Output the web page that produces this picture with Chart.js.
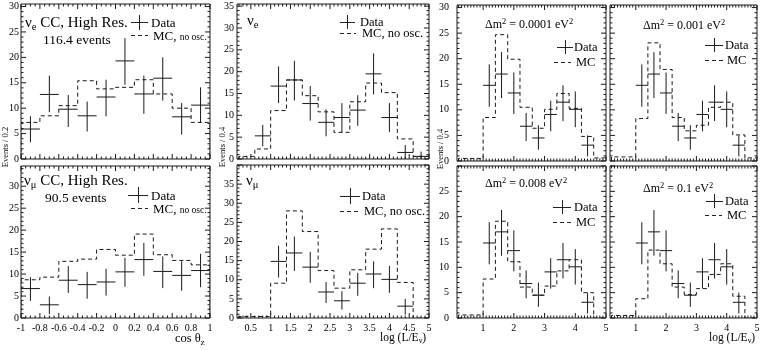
<!DOCTYPE html>
<html>
<head>
<meta charset="utf-8">
<script src="https://cdn.jsdelivr.net/npm/chart.js@4.4.0/dist/chart.umd.min.js"></script>
<style>
  html, body { margin: 0; padding: 0; background: #fff; }
  #fig { position: relative; width: 761px; height: 350px; overflow: hidden;
         font-family: "Liberation Serif", "DejaVu Serif", serif; color: #000; }
  #fig canvas { position: absolute; }
  .t { position: absolute; white-space: nowrap; line-height: 1; }
  .t sub { font-size: 70%; vertical-align: -0.3em; line-height: 0; }
  .t sup { font-size: 70%; vertical-align: 0.45em; line-height: 0; }
  .t small { font-size: 9.5px; }
  .rot { transform: translate(-50%, -50%) rotate(-90deg); }
  .hl { position: absolute; height: 1px; background: #222; }
  .vl { position: absolute; width: 1px; background: #222; }
  .dl { position: absolute; height: 1px;
        background: repeating-linear-gradient(to right, #222 0 4px, transparent 4px 7px); }
</style>
</head>
<body>
<div id="fig"></div>
<script>
"use strict";

// ---- data: cos(theta_z), bins of 0.2 ----------------------------------------
const cosEdges = [-1, -0.8, -0.6, -0.4, -0.2, 0, 0.2, 0.4, 0.6, 0.8, 1];

const nueCosData = [5.9, 12.7, 9.8, 8.5, 12.2, 19.3, 12.8, 15.9, 8.3, 10.6];
const nueCosLo   = [3.3, 9.2, 6.3, 5.4, 8.4, 14.6, 8.9, 11.5, 4.8, 7.1];
const nueCosHi   = [8.4, 16.4, 12.6, 11.3, 15.6, 23.8, 16.4, 20.0, 11.0, 14.1];
const nueCosMC   = [7.2, 8.5, 10.5, 15.4, 13.8, 14.1, 15.6, 12.8, 10.0, 7.2];

const numuCosData = [6.7, 3.0, 8.6, 7.6, 8.2, 10.5, 13.3, 10.6, 9.7, 10.8];
const numuCosLo   = [3.9, 0.9, 5.7, 4.4, 5.1, 7.1, 9.6, 6.8, 6.2, 7.0];
const numuCosHi   = [9.3, 4.9, 11.8, 10.5, 11.2, 13.7, 17.1, 14.0, 12.9, 14.6];
const numuCosMC   = [8.7, 9.3, 12.9, 13.4, 15.6, 14.3, 19.1, 14.4, 13.1, 12.1];

// ---- data: log(L/E), bins of 0.4 (null = empty bin) -------------------------
const logEdges = [0.2, 0.6, 1.0, 1.4, 1.8, 2.2, 2.6, 3.0, 3.4, 3.8, 4.2, 4.6, 5.0];

const nueLogData = [null, 5.3, 16.7, 18.1, 12.7, 8.4, 9.5, 11.2, 19.5, 9.5, 1.5, 0.6];
const nueLogLo   = [null, 2.9, 12.8, 13.4, 8.8, 5.2, 6.1, 7.6, 14.8, 6.2, 0, 0];
const nueLogHi   = [null, 7.8, 21.2, 22.5, 16.7, 11.4, 12.8, 14.6, 24.2, 12.8, 3.2, 1.7];
const nueLogMC   = [0.6, 2.3, 11.1, 18.1, 14.5, 10.8, 6.1, 13.1, 17.4, 15.2, 4.6, 0.6];

const numuLogData = [null, null, 14.8, 17.0, 13.3, 6.8, 4.5, 9.1, 11.5, 10.1, 3.1, null];
const numuLogLo   = [null, null, 10.6, 12.3, 9.2, 3.9, 2.2, 5.8, 7.8, 6.6, 0.9, null];
const numuLogHi   = [null, null, 18.9, 21.3, 17.3, 9.4, 7.0, 11.8, 14.8, 13.6, 5.0, null];
const numuLogMC   = [0.4, 0.4, 9.1, 28.0, 22.6, 12.4, 7.8, 12.6, 18.0, 23.3, 9.3, 0];

// MC with oscillations, by delta m^2
const mcDm0001 = [0.5, 0.5, 8.5, 24.7, 19.9, 10.5, 6.4, 10.1, 13.2, 10.3, 4.8, 0.6];
const mcDm001  = [0.8, 0.8, 8.3, 23.1, 17.9, 8.5, 5.9, 7.0, 10.5, 11.5, 5.1, 0.6];
const mcDm008  = [0.6, 0.6, 7.7, 19.1, 11.1, 6.1, 4.5, 6.3, 9.3, 11.5, 5.0, 0];
const mcDm1    = [0.5, 0.5, 3.8, 13.4, 10.7, 6.1, 4.6, 5.8, 8.6, 10.7, 4.3, 0];

// ---- helpers ----------------------------------------------------------------
const fig = document.getElementById("fig");
const INK = "#1a1a1a";
const TICK_FONT = { family: "'Liberation Serif', 'DejaVu Serif', serif", size: 10 };

function histPoints(edges, values) {
  const pts = [{ x: edges[0], y: 0 }];
  values.forEach((v, i) => pts.push({ x: edges[i], y: v }));
  pts.push({ x: edges[edges.length - 1], y: 0 });
  return pts;
}

// horizontal bars across the bin and vertical error bars, split by null gaps
function crossPoints(edges, values, lo, hi) {
  const h = [], v = [];
  values.forEach((val, i) => {
    if (val == null) return;
    const c = (edges[i] + edges[i + 1]) / 2;
    h.push({ x: edges[i], y: val }, { x: edges[i + 1], y: val }, { x: edges[i + 1], y: null });
    v.push({ x: c, y: lo[i] }, { x: c, y: hi[i] }, { x: c, y: null });
  });
  return [h, v];
}

function marks(scale, minor, major, draw) {
  const n0 = Math.ceil(scale.min / minor - 1e-6);
  const n1 = Math.floor(scale.max / minor + 1e-6);
  for (let n = n0; n <= n1; n++) {
    const v = n * minor;
    const isMajor = Math.abs(v / major - Math.round(v / major)) < 1e-6;
    draw(scale.getPixelForValue(v), isMajor ? 5 : 2.5);
  }
}

// frame with inward ticks on all four sides, like the original PAW plots
const frameTicks = {
  id: "frameTicks",
  afterDatasetsDraw(chart, args, o) {
    const { ctx, chartArea: a, scales: { x, y } } = chart;
    ctx.save();
    ctx.strokeStyle = INK;
    ctx.lineWidth = 1;
    ctx.beginPath();
    ctx.rect(a.left, a.top, a.right - a.left, a.bottom - a.top);
    marks(x, o.xMinor, o.xMajor, (px, len) => {
      ctx.moveTo(px, a.bottom); ctx.lineTo(px, a.bottom - len);
      ctx.moveTo(px, a.top); ctx.lineTo(px, a.top + len);
    });
    marks(y, 1, 5, (py, len) => {
      ctx.moveTo(a.left, py); ctx.lineTo(a.left + len, py);
      ctx.moveTo(a.right, py); ctx.lineTo(a.right - len, py);
    });
    ctx.stroke();
    ctx.restore();
  },
};

function makePanel(p) {
  const padT = 4, padR = 3, xH = p.xLabels ? 24 : 3;
  const w = p.R - p.L + p.yW + padR;
  const h = p.B - p.T + padT + xH;
  const cv = document.createElement("canvas");
  cv.width = w; cv.height = h;
  cv.style.left = (p.L - p.yW) + "px";
  cv.style.top = (p.T - padT) + "px";
  cv.style.width = w + "px";
  cv.style.height = h + "px";
  fig.appendChild(cv);

  const [hBars, vBars] = crossPoints(p.edges, p.vals, p.lo, p.hi);
  const lineDs = (data, extra) => Object.assign({
    data, borderColor: INK, borderWidth: 1, pointRadius: 0, tension: 0, spanGaps: false,
  }, extra);

  new Chart(cv, {
    type: "line",
    data: {
      datasets: [
        lineDs(histPoints(p.edges, p.mc), { stepped: "before", borderDash: [4, 3] }),
        lineDs(hBars),
        lineDs(vBars),
      ],
    },
    options: {
      responsive: false,
      animation: false,
      devicePixelRatio: 1,
      layout: { padding: { top: padT, right: padR, left: 0, bottom: 0 } },
      plugins: {
        legend: { display: false },
        tooltip: { enabled: false },
        frameTicks: { xMinor: p.xMinor, xMajor: p.xStep },
      },
      scales: {
        x: {
          type: "linear", min: p.xMin, max: p.xMax,
          grid: { display: false, drawTicks: false }, border: { display: false },
          ticks: {
            display: p.xLabels, stepSize: p.xStep, autoSkip: false, maxRotation: 0,
            includeBounds: false, padding: 4, font: TICK_FONT, color: "#000",
            callback: (v) => String(Math.round(v * 10) / 10),
          },
          afterFit: (s) => { s.height = xH; s.paddingLeft = 0; s.paddingRight = 0; },
        },
        y: {
          min: 0, max: p.yMax,
          grid: { display: false, drawTicks: false }, border: { display: false },
          ticks: {
            display: p.yLabelMax > 0, stepSize: 5, autoSkip: false, includeBounds: false,
            padding: p.yPad, font: TICK_FONT, color: "#000",
            callback: (v) => (v <= p.yLabelMax ? String(v) : ""),
          },
          afterFit: (s) => { s.width = p.yW; s.paddingTop = 0; s.paddingBottom = 0; },
        },
      },
    },
    plugins: [frameTicks],
  });
}

const cosAxis = { xMin: -1, xMax: 1, xStep: 0.2, xMinor: 0.05, edges: cosEdges };
const logAxisB = { xMin: 0.15, xMax: 5, xStep: 0.5, xMinor: 0.1, edges: logEdges };
const logAxis = { xMin: 0.15, xMax: 5, xStep: 1, xMinor: 0.1, edges: logEdges };
const numuLog = { vals: numuLogData, lo: numuLogLo, hi: numuLogHi };

const panels = [
  Object.assign({ L: 21, T: 4, R: 210, B: 159, yMax: 30.5, yLabelMax: 30, yW: 21, yPad: 2, xLabels: false,
    vals: nueCosData, lo: nueCosLo, hi: nueCosHi, mc: nueCosMC }, cosAxis),
  Object.assign({ L: 21, T: 166, R: 210, B: 318, yMax: 34.6, yLabelMax: 30, yW: 21, yPad: 2, xLabels: true,
    vals: numuCosData, lo: numuCosLo, hi: numuCosHi, mc: numuCosMC }, cosAxis),
  Object.assign({ L: 237, T: 4, R: 429, B: 159, yMax: 35.5, yLabelMax: 35, yW: 30, yPad: 3, xLabels: false,
    vals: nueLogData, lo: nueLogLo, hi: nueLogHi, mc: nueLogMC }, logAxisB),
  Object.assign({ L: 237, T: 165, R: 429, B: 318, yMax: 40, yLabelMax: 35, yW: 30, yPad: 3, xLabels: true,
    mc: numuLogMC }, numuLog, logAxisB),
  Object.assign({ L: 457, T: 5, R: 606, B: 161, yMax: 30.5, yLabelMax: 30, yW: 30, yPad: 8, xLabels: false,
    mc: mcDm0001 }, numuLog, logAxis),
  Object.assign({ L: 610, T: 5, R: 757, B: 161, yMax: 30.5, yLabelMax: 0, yW: 4, yPad: 0, xLabels: false,
    mc: mcDm001 }, numuLog, logAxis),
  Object.assign({ L: 457, T: 166, R: 606, B: 318, yMax: 30, yLabelMax: 25, yW: 30, yPad: 8, xLabels: true,
    mc: mcDm008 }, numuLog, logAxis),
  Object.assign({ L: 610, T: 166, R: 757, B: 318, yMax: 30, yLabelMax: 0, yW: 4, yPad: 0, xLabels: true,
    mc: mcDm1 }, numuLog, logAxis),
];
panels.forEach(makePanel);

// ---- text and legend keys ---------------------------------------------------
function txt(html, x, cy, size, cls) {
  const d = document.createElement("div");
  d.className = "t" + (cls ? " " + cls : "");
  d.innerHTML = html;
  d.style.fontSize = size + "px";
  if (cls === "rot") { d.style.left = x + "px"; d.style.top = cy + "px"; }
  else { d.style.left = x + "px"; d.style.top = (cy - size / 2) + "px"; }
  fig.appendChild(d);
  return d;
}

function keyCross(cx, cy, w, h) {
  const a = document.createElement("div");
  a.className = "hl";
  Object.assign(a.style, { left: (cx - w / 2) + "px", top: cy + "px", width: w + "px" });
  const b = document.createElement("div");
  b.className = "vl";
  Object.assign(b.style, { left: cx + "px", top: (cy - h / 2) + "px", height: h + "px" });
  fig.appendChild(a); fig.appendChild(b);
}

function keyDash(x0, x1, cy) {
  const d = document.createElement("div");
  d.className = "dl";
  Object.assign(d.style, { left: x0 + "px", top: cy + "px", width: (x1 - x0) + "px" });
  fig.appendChild(d);
}

// panel titles
txt("ν<sub>e</sub> CC, High Res.", 25, 22, 15);
txt("116.4 events", 43, 40, 13.5);
txt("ν<sub>μ</sub> CC, High Res.", 24, 180, 15);
txt("90.5 events", 45, 198, 13.5);
txt("ν<sub>e</sub>", 247, 20, 15);
txt("ν<sub>μ</sub>", 246, 180, 15);
txt("Δm<sup>2</sup> = 0.0001 eV<sup>2</sup>", 485, 24, 12);
txt("Δm<sup>2</sup> = 0.001 eV<sup>2</sup>", 643, 25, 12);
txt("Δm<sup>2</sup> = 0.008 eV<sup>2</sup>", 485, 183, 12);
txt("Δm<sup>2</sup> = 0.1 eV<sup>2</sup>", 643, 188, 12);

// legends
const legends = [
  { cx: 139, cy: 22, w: 17, h: 15, d0: 131, d1: 148, dy: 35, tx: 151, mc: "MC, <small>no osc.</small>", size: 13 },
  { cx: 138, cy: 195, w: 20, h: 16, d0: 131, d1: 148, dy: 208, tx: 151, mc: "MC, <small>no osc.</small>", size: 13 },
  { cx: 347, cy: 22, w: 15, h: 14, d0: 340, d1: 356, dy: 33, tx: 360, mc: "MC, no osc.", size: 12.5 },
  { cx: 350, cy: 196, w: 20, h: 16, d0: 340, d1: 360, dy: 211, tx: 362, mc: "MC, no osc.", size: 12.5 },
  { cx: 565, cy: 47, w: 16, h: 14, d0: 554, d1: 571, dy: 62, tx: 574, mc: "MC", size: 12.5 },
  { cx: 714, cy: 45, w: 18, h: 14, d0: 705, d1: 723, dy: 60, tx: 725, mc: "MC", size: 12.5 },
  { cx: 562, cy: 207, w: 18, h: 14, d0: 553, d1: 572, dy: 222, tx: 574, mc: "MC", size: 12.5 },
  { cx: 714, cy: 201, w: 17, h: 14, d0: 705, d1: 722, dy: 215, tx: 725, mc: "MC", size: 12.5 },
];
legends.forEach((g) => {
  keyCross(g.cx, g.cy, g.w, g.h);
  keyDash(g.d0, g.d1, g.dy);
  txt("Data", g.tx, g.cy, g.size);
  txt(g.mc, g.tx + 2, g.dy, g.size);
});

// axis titles
txt("Events / 0.2", 5, 147, 8.5, "rot");
txt("Events / 0.4", 222, 147, 8.5, "rot");
txt("Events / 0.4", 440, 149, 8.5, "rot");
txt("cos θ<sub>z</sub>", 175, 338, 12.5);
txt("log (L/E<sub>ν</sub>)", 380, 338, 11.5);
txt("log (L/E<sub>ν</sub>)", 709, 338, 11.5);
</script>
</body>
</html>
